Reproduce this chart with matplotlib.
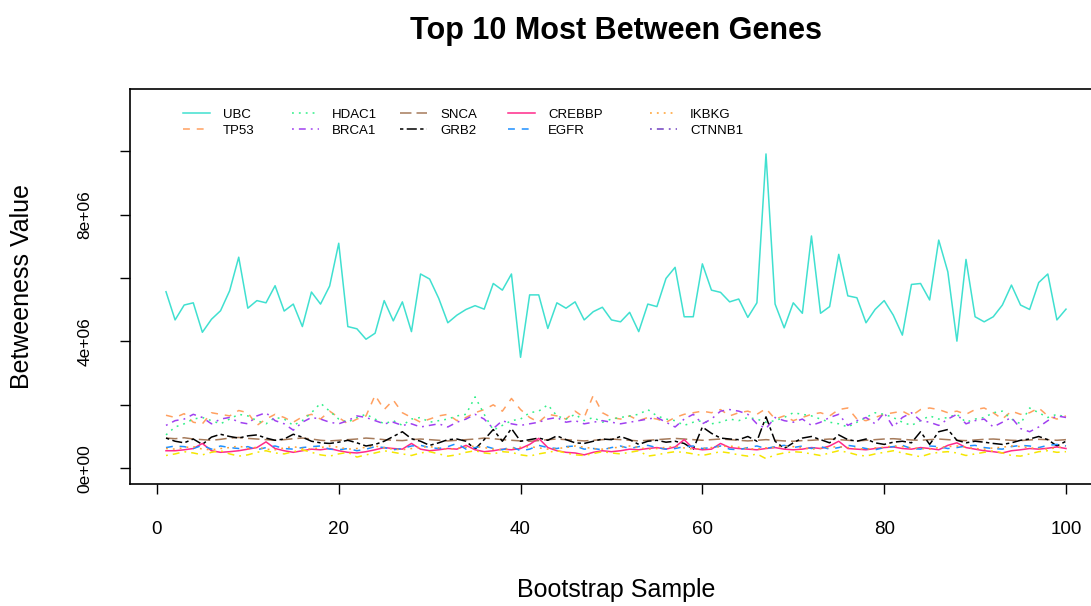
import matplotlib.pyplot as plt
from matplotlib.legend import Legend
from matplotlib.lines import Line2D

plt.rcParams['font.family'] = ['Liberation Sans', 'DejaVu Sans']

# betweenness per bootstrap sample, in millions
samples = list(range(1, 101))

ubc = [5.57, 4.68, 5.15, 5.22, 4.29, 4.70, 4.97, 5.60, 6.66, 5.05,
       5.29, 5.22, 5.76, 4.96, 5.18, 4.47, 5.56, 5.18, 5.75, 7.10,
       4.47, 4.40, 4.07, 4.26, 5.29, 4.65, 5.25, 4.31, 6.13, 5.97,
       5.36, 4.59, 4.83, 5.01, 5.13, 5.02, 5.83, 5.62, 6.13, 3.50,
       5.47, 5.47, 4.41, 5.22, 5.05, 5.25, 4.68, 4.94, 5.08, 4.68,
       4.62, 4.92, 4.31, 5.18, 5.10, 5.99, 6.34, 4.78, 4.78, 6.45,
       5.62, 5.55, 5.25, 5.34, 4.76, 5.22, 9.92, 5.18, 4.43, 5.22,
       4.89, 7.33, 4.89, 5.10, 6.75, 5.44, 5.38, 4.59, 5.01, 5.29,
       4.83, 4.20, 5.80, 5.83, 5.31, 7.20, 6.20, 4.01, 6.59, 4.78,
       4.62, 4.78, 5.15, 5.78, 5.15, 5.01, 5.86, 6.13, 4.68, 5.02]

tp53 = [1.67, 1.60, 1.72, 1.45, 1.40, 1.75, 1.70, 1.65, 1.82, 1.75,
        1.35, 1.55, 1.70, 1.60, 1.45, 1.62, 1.70, 1.55, 1.80, 1.60,
        1.40, 1.55, 1.65, 2.30, 1.85, 2.15, 1.75, 1.60, 1.45, 1.55,
        1.65, 1.70, 1.50, 1.60, 1.75, 1.85, 2.00, 1.80, 2.20, 1.85,
        1.60, 1.45, 1.70, 1.65, 1.55, 1.80, 1.60, 2.30, 1.75, 1.60,
        1.55, 1.65, 1.50, 1.60, 1.55, 1.45, 1.60, 1.70, 1.75, 1.80,
        1.75, 1.85, 1.65, 1.75, 1.80, 1.70, 1.88, 1.55, 1.65, 1.50,
        1.60, 1.70, 1.75, 1.65, 1.85, 1.90, 1.55, 1.50, 1.60, 1.70,
        1.75, 1.80, 1.65, 1.85, 1.90, 1.85, 1.75, 1.80, 1.70, 1.85,
        1.90, 1.75, 1.55, 1.80, 1.70, 1.75, 1.90, 1.65, 1.55, 1.65]

hdac1 = [1.05, 1.30, 1.40, 1.55, 1.60, 1.50, 1.40, 1.55, 1.70, 1.65,
         1.50, 1.40, 1.60, 1.55, 1.35, 1.50, 1.75, 2.05, 1.80, 1.55,
         1.45, 1.60, 1.70, 1.55, 1.40, 1.50, 1.35, 1.55, 1.60, 1.45,
         1.50, 1.55, 1.65, 1.70, 2.25, 1.70, 1.20, 1.35, 1.50, 1.55,
         1.75, 1.80, 2.00, 1.65, 1.55, 1.70, 1.50, 1.60, 1.45, 1.55,
         1.60, 1.65, 1.70, 1.85, 1.65, 1.55, 1.50, 1.35, 1.45, 1.50,
         1.40, 1.45, 1.55, 1.50, 1.60, 1.55, 1.45, 1.50, 1.60, 1.75,
         1.70, 1.65, 1.55, 1.45, 1.40, 1.30, 1.45, 1.60, 1.75, 1.70,
         1.60, 1.45, 1.35, 1.50, 1.65, 1.55, 1.60, 1.70, 1.45, 1.55,
         1.60, 1.75, 1.80, 1.55, 1.40, 1.90, 1.75, 1.60, 1.70, 1.60]

brca1 = [1.35, 1.50, 1.55, 1.70, 1.60, 1.40, 1.55, 1.60, 1.45, 1.40,
         1.65, 1.75, 1.50, 1.40, 1.20, 1.45, 1.60, 1.55, 1.45, 1.40,
         1.50, 1.65, 1.60, 1.50, 1.40, 1.45, 1.35, 1.40, 1.30, 1.35,
         1.40, 1.30, 1.45, 1.55, 1.70, 1.55, 1.25, 1.50, 1.40, 1.35,
         1.40, 1.45, 1.55, 1.60, 1.45, 1.50, 1.40, 1.45, 1.50, 1.45,
         1.40, 1.45, 1.50, 1.55, 1.60, 1.45, 1.30, 1.55, 1.70, 1.40,
         1.55, 1.80, 1.85, 1.80, 1.70, 1.40, 1.25, 1.60, 1.50, 1.45,
         1.55, 1.35, 1.45, 1.60, 1.70, 1.35, 1.50, 1.60, 1.40, 1.75,
         1.30, 1.60, 1.75, 1.50, 1.45, 1.35, 1.55, 1.70, 1.40, 1.50,
         1.55, 1.30, 1.45, 1.60, 1.25, 1.15, 1.30, 1.50, 1.65, 1.60]

snca = [0.95, 0.93, 0.96, 0.92, 0.90, 0.88, 0.91, 0.95, 0.97, 0.94,
        0.92, 0.90, 0.88, 0.90, 0.93, 0.95, 0.92, 0.88, 0.86, 0.88,
        0.90, 0.92, 0.95, 0.93, 0.90, 0.88, 0.87, 0.90, 0.92, 0.90,
        0.88, 0.86, 0.88, 0.90, 0.92, 0.95, 0.93, 0.90, 0.88, 0.86,
        0.85, 0.87, 0.90, 0.92, 0.90, 0.88, 0.86, 0.88, 0.90, 0.92,
        0.90, 0.88, 0.86, 0.88, 0.90, 0.92, 0.94, 0.92, 0.90, 0.88,
        0.90, 0.92, 0.90, 0.88, 0.86, 0.88, 0.90, 0.88, 0.86, 0.85,
        0.87, 0.88, 0.90, 0.92, 0.90, 0.88, 0.86, 0.88, 0.90, 0.92,
        0.93, 0.91, 0.89, 0.88, 0.90, 0.92, 0.90, 0.88, 0.87, 0.89,
        0.91, 0.92, 0.90, 0.88, 0.87, 0.89, 0.91, 0.90, 0.88, 0.90]

grb2 = [0.95, 0.85, 0.80, 0.92, 0.75, 0.98, 1.07, 1.00, 0.95, 1.02,
        1.05, 0.95, 0.88, 0.92, 1.07, 0.98, 0.85, 0.80, 0.78, 0.82,
        0.88, 0.80, 0.70, 0.75, 0.85, 1.00, 1.15, 0.93, 0.85, 0.72,
        0.80, 0.90, 0.92, 0.85, 0.60, 0.90, 1.22, 0.85, 1.25, 0.85,
        0.90, 0.95, 0.88, 1.02, 0.90, 0.80, 0.78, 0.85, 0.92, 0.90,
        1.00, 0.90, 0.75, 0.85, 0.88, 0.82, 0.85, 0.78, 0.60, 1.30,
        1.10, 0.95, 0.92, 0.90, 1.00, 0.85, 1.62, 0.85, 0.62, 0.80,
        0.95, 1.00, 0.90, 0.80, 1.05, 0.90, 0.85, 0.92, 0.80, 0.75,
        0.82, 0.85, 0.80, 1.15, 0.75, 1.15, 1.22, 0.88, 0.80, 0.85,
        0.82, 0.78, 0.75, 0.80, 0.88, 0.92, 1.00, 0.90, 0.70, 0.85]

crebbp = [0.55, 0.55, 0.58, 0.62, 0.78, 0.55, 0.50, 0.52, 0.55, 0.60,
          0.65, 0.83, 0.62, 0.55, 0.50, 0.55, 0.60, 0.58, 0.62, 0.55,
          0.50, 0.48, 0.52, 0.58, 0.65, 0.62, 0.60, 0.78, 0.60, 0.55,
          0.58, 0.62, 0.60, 0.72, 0.58, 0.52, 0.55, 0.60, 0.58, 0.62,
          0.75, 0.94, 0.65, 0.55, 0.50, 0.48, 0.42, 0.50, 0.55, 0.52,
          0.55, 0.60, 0.58, 0.62, 0.65, 0.60, 0.67, 0.90, 0.62, 0.58,
          0.60, 0.78, 0.65, 0.62, 0.60, 0.58, 0.62, 0.65, 0.60, 0.58,
          0.60, 0.65, 0.62, 0.70, 0.85, 0.62, 0.60, 0.58, 0.62, 0.65,
          0.67, 0.62, 0.60, 0.65, 0.62, 0.58, 0.72, 0.80, 0.65, 0.60,
          0.55, 0.52, 0.48, 0.55, 0.58, 0.62, 0.60, 0.63, 0.67, 0.62]

egfr = [0.65, 0.70, 0.68, 0.62, 0.72, 0.60, 0.70, 0.65, 0.62, 0.68,
        0.58, 0.65, 0.70, 0.62, 0.60, 0.65, 0.68, 0.70, 0.60, 0.58,
        0.62, 0.55, 0.60, 0.68, 0.65, 0.58, 0.62, 0.70, 0.72, 0.65,
        0.62, 0.68, 0.78, 0.60, 0.65, 0.70, 0.62, 0.58, 0.68, 0.55,
        0.60, 0.72, 0.65, 0.62, 0.68, 0.70, 0.60, 0.62, 0.58, 0.65,
        0.70, 0.62, 0.68, 0.72, 0.65, 0.60, 0.62, 0.68, 0.70, 0.62,
        0.65, 0.70, 0.60, 0.58, 0.65, 0.70, 0.62, 0.68, 0.72, 0.65,
        0.70, 0.62, 0.68, 0.60, 0.65, 0.72, 0.68, 0.62, 0.58, 0.65,
        0.68, 0.72, 0.62, 0.60, 0.70, 0.68, 0.62, 0.65, 0.70, 0.72,
        0.65, 0.62, 0.60, 0.68, 0.72, 0.70, 0.65, 0.72, 0.75, 0.70]

ikbkg = [0.62, 0.60, 0.65, 0.68, 0.60, 0.58, 0.62, 0.65, 0.70, 0.62,
         0.66, 0.60, 0.58, 0.64, 0.68, 0.62, 0.60, 0.65, 0.70, 0.66,
         0.60, 0.62, 0.66, 0.70, 0.64, 0.60, 0.58, 0.62, 0.66, 0.68,
         0.64, 0.60, 0.62, 0.66, 0.70, 0.65, 0.60, 0.58, 0.62, 0.66,
         0.68, 0.64, 0.60, 0.62, 0.65, 0.70, 0.66, 0.62, 0.60, 0.64,
         0.66, 0.70, 0.65, 0.60, 0.62, 0.66, 0.68, 0.64, 0.60, 0.62,
         0.65, 0.68, 0.70, 0.66, 0.62, 0.60, 0.64, 0.66, 0.70, 0.68,
         0.64, 0.60, 0.62, 0.66, 0.68, 0.65, 0.62, 0.60, 0.64, 0.66,
         0.70, 0.68, 0.64, 0.62, 0.60, 0.65, 0.68, 0.70, 0.66, 0.62,
         0.60, 0.64, 0.66, 0.70, 0.68, 0.64, 0.62, 0.60, 0.65, 0.68]

ctnnb1 = [0.40, 0.45, 0.52, 0.48, 0.42, 0.50, 0.55, 0.45, 0.38, 0.42,
          0.50, 0.55, 0.48, 0.45, 0.52, 0.58, 0.50, 0.42, 0.38, 0.45,
          0.50, 0.35, 0.42, 0.48, 0.55, 0.50, 0.45, 0.40, 0.48, 0.52,
          0.45, 0.38, 0.42, 0.50, 0.55, 0.48, 0.45, 0.52, 0.50, 0.42,
          0.38, 0.45, 0.50, 0.55, 0.48, 0.42, 0.40, 0.46, 0.52, 0.48,
          0.45, 0.50, 0.55, 0.38, 0.42, 0.48, 0.52, 0.50, 0.45, 0.40,
          0.46, 0.52, 0.48, 0.42, 0.38, 0.45, 0.30, 0.42, 0.48, 0.52,
          0.50, 0.45, 0.40, 0.48, 0.55, 0.50, 0.42, 0.38, 0.45, 0.50,
          0.55, 0.48, 0.42, 0.36, 0.45, 0.50, 0.52, 0.48, 0.40, 0.45,
          0.50, 0.55, 0.48, 0.40, 0.38, 0.45, 0.52, 0.55, 0.50, 0.52]

genes = ['UBC', 'TP53', 'HDAC1', 'BRCA1', 'SNCA',
         'GRB2', 'CREBBP', 'EGFR', 'IKBKG', 'CTNNB1']
series = [ubc, tp53, hdac1, brca1, snca, grb2, crebbp, egfr, ikbkg, ctnnb1]
line_colors = ['#40E0D0', '#FFA060', '#30F088', '#A040F0', '#A67B5B',
               '#000000', '#FF2A8A', '#1E90FF', '#FFA030', '#F5E600']
legend_colors = line_colors[:9] + ['#7040C0']
# R lty 1..6 cycling
dash_styles = [None, (4.5, 4.5), (1.2, 3.3), (1.2, 3.3, 4.5, 3.3), (7.5, 3.3),
               (2.2, 2.2, 6.6, 2.2), None, (4.5, 4.5), (1.2, 3.3), (1.2, 3.3, 4.5, 3.3)]


def line_style(col, ds):
    kw = dict(color=col, lw=1.1)
    if ds is None:
        kw['ls'] = '-'
    else:
        kw['dashes'] = ds
    return kw


fig = plt.figure(figsize=(10.91, 6.06), dpi=100)
ax = fig.add_axes([130 / 1091, 1 - 484 / 606, (1102 - 130) / 1091, (484 - 89) / 606])

for vals, col, ds in zip(series, line_colors, dash_styles):
    ax.plot(samples, [v * 1e6 for v in vals], **line_style(col, ds))

ax.set_xlim(-2.96, 103.96)
ax.set_ylim(-0.5e6, 11.97e6)
ax.set_xticks([0, 20, 40, 60, 80, 100])
ax.set_yticks([0, 2e6, 4e6, 6e6, 8e6, 1e7])
ax.set_yticklabels(['0e+00', '', '4e+06', '', '8e+06', ''], rotation=90, va='center')
ax.tick_params(labelsize=13.5, length=7, width=1, direction='out')
ax.tick_params(axis='x', pad=20)
ax.tick_params(axis='y', labelsize=12.5, pad=20)
for s in ax.spines.values():
    s.set_linewidth(1.2)

ax.set_title('Top 10 Most Between Genes', fontsize=22, fontweight='bold', pad=36)
ax.set_xlabel('Bootstrap Sample', fontsize=18)
ax.set_ylabel('Betweeness Value', fontsize=18)
ax.xaxis.set_label_coords(0.5, (484 - 590) / 395)
ax.xaxis.label.set_va('center')
ax.yaxis.set_label_coords((22 - 130) / 972, 0.5)
ax.yaxis.label.set_va('center')

# one small legend per column, R-style equal spacing
col_x = [183, 292, 400, 508, 650]
for j, x in enumerate(col_x):
    idx = [j * 2, j * 2 + 1]
    hs = [Line2D([], [], **line_style(legend_colors[i], dash_styles[i])) for i in idx]
    leg = Legend(ax, hs, [genes[i] for i in idx], loc='upper left',
                 bbox_to_anchor=((x - 130) / 972, 0.950), frameon=False,
                 fontsize=9.5, handlelength=2.05, handletextpad=1.0,
                 labelspacing=0.28, borderpad=0, borderaxespad=0)
    ax.add_artist(leg)

fig.savefig('out.png', dpi=100)
